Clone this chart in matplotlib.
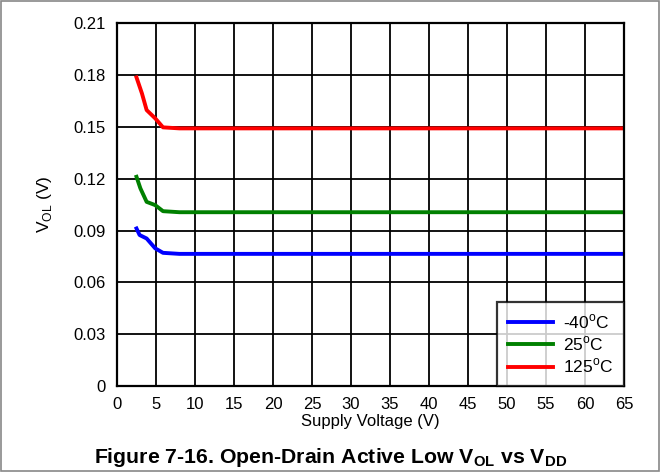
import matplotlib.pyplot as plt
from matplotlib.patches import Rectangle

plt.rcParams['font.family'] = ['Liberation Sans', 'DejaVu Sans']
plt.rcParams['mathtext.fontset'] = 'custom'
plt.rcParams['mathtext.rm'] = 'Liberation Sans'
plt.rcParams['mathtext.bf'] = 'Liberation Sans:bold'

# supply voltage (V) and V_OL (V) for each temperature
vdd_m40 = [2.5, 2.9, 3.8, 4.9, 5.9, 8, 15, 30, 45, 65]
vol_m40 = [0.0912, 0.0874, 0.0854, 0.0797, 0.0771, 0.0765, 0.0765, 0.0765, 0.0765, 0.0765]

vdd_25 = [2.5, 3.0, 3.8, 4.9, 5.9, 8, 15, 30, 45, 65]
vol_25 = [0.1211, 0.1144, 0.1066, 0.1047, 0.1012, 0.1006, 0.1006, 0.1006, 0.1006, 0.1006]

vdd_125 = [2.5, 3.2, 3.8, 4.9, 5.9, 8, 15, 30, 45, 65]
vol_125 = [0.1786, 0.1693, 0.1597, 0.1549, 0.1497, 0.1491, 0.1491, 0.1491, 0.1491, 0.1491]

fig = plt.figure(figsize=(6.61, 4.72), dpi=100)
ax = fig.add_axes([0.177, 0.182, 0.767, 0.769])

ax.plot(vdd_m40, vol_m40, color='#0000ff', lw=2.8, label=r'-40$^{\rm o}$C')
ax.plot(vdd_25, vol_25, color='#008000', lw=2.8, label=r'25$^{\rm o}$C')
ax.plot(vdd_125, vol_125, color='#ff0000', lw=2.8, label=r'125$^{\rm o}$C')

ax.set_xlim(0, 65)
ax.set_ylim(0, 0.21)
ax.set_xticks(range(0, 66, 5))
ax.set_yticks([0, 0.03, 0.06, 0.09, 0.12, 0.15, 0.18, 0.21])
ax.set_yticklabels(['0', '0.03', '0.06', '0.09', '0.12', '0.15', '0.18', '0.21'])
ax.tick_params(axis='y', length=0, labelsize=12, pad=8)
ax.tick_params(axis='x', length=0, labelsize=12, pad=8)
ax.grid(True, color='black', lw=1.3)
for s in ax.spines.values():
    s.set_linewidth(1.6)

ax.set_xlabel('Supply Voltage (V)', fontsize=12, labelpad=1)
ax.set_ylabel(r'V$_{\rm OL}$ (V)', fontsize=12.5, labelpad=14)

leg = ax.legend(loc='lower right', fontsize=12.5, frameon=True, fancybox=False,
                borderaxespad=0, handlelength=2.6, labelspacing=0.2,
                borderpad=0.6, handletextpad=0.6)
leg.get_frame().set_edgecolor('black')
leg.get_frame().set_linewidth(1.6)

fig.text(0.5, 0.02, r'Figure 7-16. Open-Drain Active Low V$_{\mathbf{OL}}$ vs V$_{\mathbf{DD}}$',
         ha='center', va='baseline', fontsize=15.3, fontweight='bold')

fig.patches.append(Rectangle((0.002, 0.002), 0.995, 0.995, transform=fig.transFigure,
                             fill=False, edgecolor='#888888', lw=1.2))

fig.savefig('out.png', dpi=100)
